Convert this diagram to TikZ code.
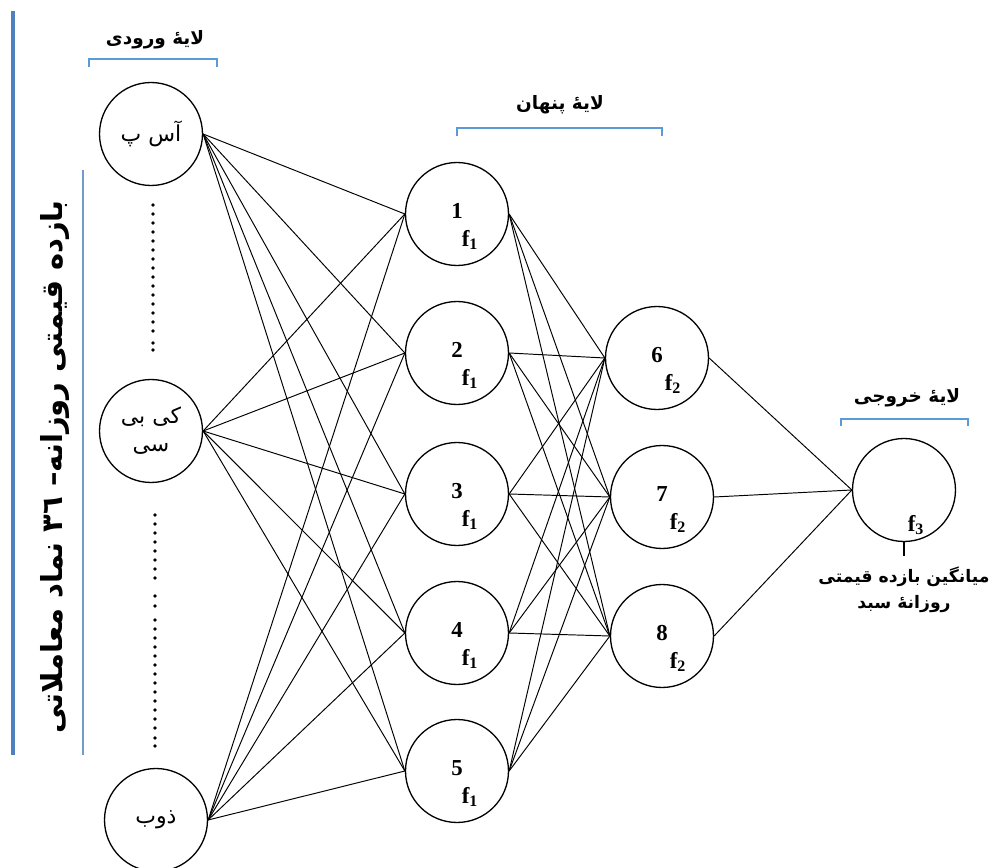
\documentclass[tikz,border=0pt]{standalone}
\usepackage{fontspec}
\setmainfont{Liberation Serif}
\newfontfamily\farsi[Script=Arabic]{DejaVu Sans}
\TeXXeTstate=1
\usepackage{tikz}
\usepackage{xcolor}
\usetikzlibrary{positioning, calc}

\definecolor{barblue}{HTML}{4F81BD}
\definecolor{brackblue}{HTML}{5B9BD5}

\tikzset{
  neuron/.style={draw, fill=white, circle, minimum size=2.06cm, inner sep=0pt, line width=0.75pt},
  link/.style={line width=0.55pt},
  num/.style={font=\fontsize{13}{15}\selectfont\bfseries, inner sep=0pt},
  fn/.style={font=\fontsize{13}{15}\selectfont\bfseries, inner sep=0pt},
  layername/.style={font=\farsi\bfseries\fontsize{10.5}{13}\selectfont, inner sep=0pt},
  inname/.style={font=\farsi\fontsize{12.5}{16}\selectfont},
  brack/.style={draw=brackblue, line width=0.6pt}
}

\begin{document}
\begin{tikzpicture}[x=0.02cm, y=-0.02cm]
\useasboundingbox (0,0) rectangle (992,868);

% Left bars and title
\draw[barblue, line width=2.4pt] (13,11) -- (13,755);
\draw[barblue!80, line width=0.8pt] (83,170) -- (83,755);
\node[rotate=90, font=\farsi\bfseries\fontsize{16.5}{20}\selectfont] (title) at (55,467)
  {\beginR بازده قیمتی روزانه– ٣٦ نماد معاملاتی\endR};

% Input layer
\node[layername] (inlabel) at (155,40) {\beginR لایهٔ ورودی\endR};
\draw[brack] (89,67) -- (89,59) -- (217,59) -- (217,67);
\node[neuron, inname] (asp) at (151,134) {\beginR آس پ\endR};
\node[neuron, inname, align=center] (kbc) at (151,431)
  {\beginR کی بی\endR\\\beginR سی\endR};
\node[neuron, inname] (zob) at (156,820) {\beginR ذوب\endR};

% Dots between inputs
\foreach \y in {205,214,...,332}
    \fill (153,\y) circle (1.9);
\fill (153,343) circle (1.9);
\fill (153,350) circle (1.9);
\foreach \y in {515,524,...,585}
    \fill (155,\y) circle (1.9);
\foreach \y in {596,606}
    \fill (155,\y) circle (1.9);
\foreach \y in {620,629,...,728}
    \fill (155,\y) circle (1.9);
\fill (155,738) circle (1.9);
\fill (155,746) circle (1.9);

% Hidden layer
\node[layername] (hidlabel) at (560,105) {\beginR لایهٔ پنهان\endR};
\draw[brack] (457,136) -- (457,128) -- (662,128) -- (662,136);
\foreach \n/\y in {1/214, 2/353, 3/494, 4/633, 5/771} {
    \node[neuron] (h\n) at (457,\y) {};
    \node[num] at ([shift={(0,-3)}]h\n.center) {\n};
    \node[fn] at ([shift={(13,26)}]h\n.center) {f\textsubscript{1}};
}
\foreach \n/\x/\y in {6/657/358, 7/662/497, 8/662/636} {
    \node[neuron] (h\n) at (\x,\y) {};
    \node[num] at ([shift={(0,-3)}]h\n.center) {\n};
    \node[fn] at ([shift={(16,26)}]h\n.center) {f\textsubscript{2}};
}

% Output layer
\node[layername] (outlabel) at (907,398) {\beginR لایهٔ خروجی\endR};
\draw[brack] (841,426) -- (841,419) -- (968,419) -- (968,426);
\node[neuron] (out) at (904,490) {};
\node[fn] at ([shift={(12,35)}]out.center) {f\textsubscript{3}};
\draw[line width=0.75pt] (out.south) -- ++(0,14);
\node[layername, align=center, font=\farsi\bfseries\fontsize{9.8}{13}\selectfont] (outtext) at (904,590)
  {\beginR میانگین بازده قیمتی\endR\\[2pt]\beginR روزانهٔ سبد\endR};

% Connections
\foreach \i in {asp,kbc,zob}
    \foreach \j in {1,...,5}
        \draw[link] (\i.east) -- (h\j.west);
\foreach \i in {1,...,5}
    \foreach \j in {6,7,8}
        \draw[link] (h\i.east) -- (h\j.west);
\foreach \j in {6,7,8}
    \draw[link] (h\j.east) -- (out.west);
\end{tikzpicture}
\end{document}
